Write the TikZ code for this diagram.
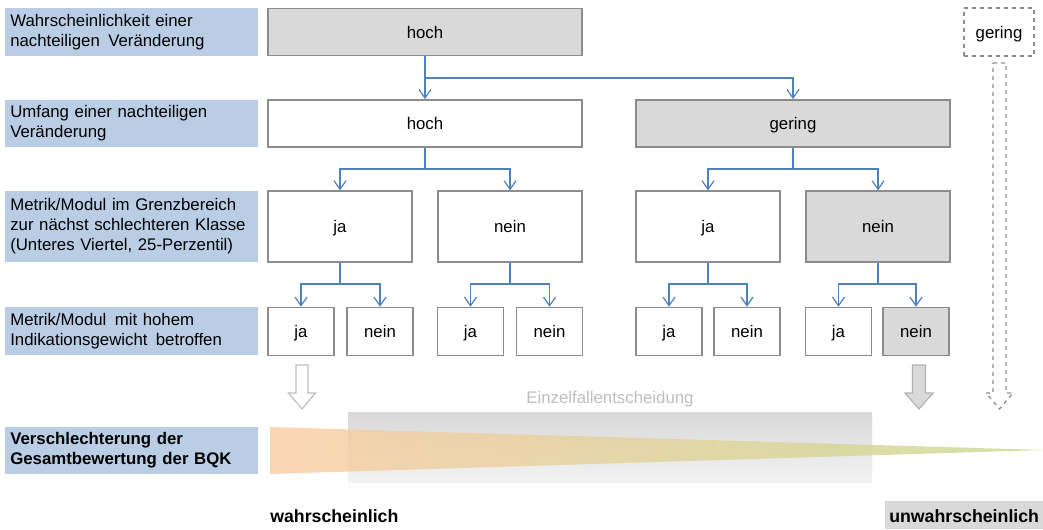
\documentclass[tikz,border=0pt]{standalone}
\usepackage{fontspec}
\setmainfont{Liberation Sans}
\usetikzlibrary{arrows.meta}
\definecolor{lblue}{HTML}{B9CDE5}
\definecolor{bline}{HTML}{4F81BD}
\definecolor{boxgray}{HTML}{D9D9D9}
\definecolor{bord}{HTML}{8C8C8C}
\definecolor{peach}{HTML}{FBCCA3}
\definecolor{lgreen}{HTML}{C9D98E}
\begin{document}
\begin{tikzpicture}[x=0.75pt,y=-0.75pt,
  every node/.style={font=\fontsize{12.6}{15}\selectfont},
  lbl/.style={fill=lblue, anchor=west, inner xsep=3.75pt, inner ysep=0pt, text width=182.25pt, align=left},
  wbox/.style={draw=bord, line width=1.1pt, fill=white, inner sep=0pt, text height=9.2pt, text depth=0pt},
  gbox/.style={wbox, fill=boxgray},
  bigbox/.style={minimum width=235.5pt, minimum height=35.5pt},
  midbox/.style={minimum width=108pt, minimum height=53pt},
  smallbox/.style={minimum width=49.5pt, minimum height=36pt},
  conn/.style={draw=bline, line width=1.1pt, -{Straight Barb[length=6.5pt,width=9pt,line width=0.9pt]}},
  plainconn/.style={draw=bline, line width=1.1pt},
  bottomlbl/.style={font=\fontsize{13.3}{16}\selectfont\bfseries, anchor=west, inner sep=0pt}
]
\clip (0,0) rectangle (1043,529);
\fill[white] (0,0) rectangle (1043,529);

% left labels
\node[lbl, minimum height=36pt] (l1) at (5,32) {Wahrscheinlichkeit einer\\nachteiligen\, Veränderung};
\node[lbl, minimum height=35.25pt] (l2) at (5,123.5) {Umfang einer nachteiligen\\Veränderung};
\node[lbl, minimum height=53pt] (l3) at (5,226.5) {Metrik/Modul im Grenzbereich\\zur nächst schlechteren Klasse\\(Unteres Viertel, 25-Perzentil)};
\node[lbl, minimum height=36pt] (l4) at (5,331) {Metrik/Modul\, mit hohem\\Indikationsgewicht\, betroffen};
\node[lbl, minimum height=35.25pt, font=\fontsize{12.6}{15}\selectfont\bfseries] (l5) at (5,450.5) {Verschlechterung der\\Gesamtbewertung der BQK};

% row 1
\node[gbox, bigbox] (h1) at (425,32) {hoch};
\node[draw=bord, dashed, line width=1.1pt, minimum width=52.5pt, minimum height=36pt, inner sep=0pt, text height=9.2pt, text depth=0pt] (g1) at (999,32) {gering};

% row 2
\node[wbox, bigbox] (h2) at (425,123.5) {hoch};
\node[gbox, bigbox] (g2) at (793,123.5) {gering};

% row 3
\node[wbox, midbox] (a1) at (340,226.5) {ja};
\node[wbox, midbox] (a2) at (510,226.5) {nein};
\node[wbox, midbox] (a3) at (708,226.5) {ja};
\node[gbox, midbox] (a4) at (878,226.5) {nein};

% row 4
\node[wbox, smallbox] (b1) at (301,331.5) {ja};
\node[wbox, smallbox] (b2) at (380,331.5) {nein};
\node[wbox, smallbox] (b3) at (470.5,331.5) {ja};
\node[wbox, smallbox] (b4) at (549.5,331.5) {nein};
\node[wbox, smallbox] (b5) at (669,331.5) {ja};
\node[wbox, smallbox] (b6) at (747,331.5) {nein};
\node[wbox, smallbox] (b7) at (838.5,331.5) {ja};
\node[gbox, smallbox] (b8) at (916,331.5) {nein};

% connectors
\coordinate (s1) at (425,78);
\draw[conn] (h1.south) -- (h2.north);
\draw[conn] (s1) -| (g2.north);

\coordinate (s2) at (425,169);
\coordinate (s3) at (793,169);
\draw[plainconn] (h2.south) -- (s2);
\draw[conn] (s2) -| (a1.north);
\draw[conn] (s2) -| (a2.north);
\draw[plainconn] (g2.south) -- (s3);
\draw[conn] (s3) -| (a3.north);
\draw[conn] (s3) -| (a4.north);

\coordinate (t1) at (340,284);
\coordinate (t2) at (510,284);
\coordinate (t3) at (708,284);
\coordinate (t4) at (878,284);
\draw[plainconn] (a1.south) -- (t1);
\draw[conn] (t1) -| (b1.north);
\draw[conn] (t1) -| (b2.north);
\draw[plainconn] (a2.south) -- (t2);
\draw[conn] (t2) -| (b3.north);
\draw[conn] (t2) -| (b4.north);
\draw[plainconn] (a3.south) -- (t3);
\draw[conn] (t3) -| (b5.north);
\draw[conn] (t3) -| (b6.north);
\draw[plainconn] (a4.south) -- (t4);
\draw[conn] (t4) -| (b7.north);
\draw[conn] (t4) -| (b8.north);

% block arrows
\draw[draw=black!25, line width=0.9pt, fill=white, line join=miter]
  (296,365) -- (308,365) -- (308,393) -- (315.5,393) -- (302,409) -- (288.5,393) -- (296,393) -- cycle;
\draw[draw=black!30, line width=0.9pt, fill=boxgray, line join=miter]
  (912.5,365) -- (925.5,365) -- (925.5,393) -- (933,393) -- (919,409) -- (905,393) -- (912.5,393) -- cycle;
\draw[draw=black!45, line width=0.9pt, dashed, line join=miter]
  (993,63) -- (1006,63) -- (1006,393) -- (1013,393) -- (999.5,409) -- (986,393) -- (993,393) -- cycle;

% Einzelfallentscheidung area
\node[text=black!25] (ez) at (610,399) {Einzelfallentscheidung};
\shade[top color=black!15, bottom color=black!5] (348,412) rectangle (872,482);
\shade[left color=peach, right color=lgreen, opacity=0.8] (270,427) -- (1043,450) -- (270,474) -- cycle;

% bottom labels
\node[bottomlbl] (w) at (270,516) {wahrscheinlich};
\fill[boxgray] (885,501) rectangle (1060,529);
\node[bottomlbl] (uw) at (889,516) {unwahrscheinlich};
\end{tikzpicture}
\end{document}
